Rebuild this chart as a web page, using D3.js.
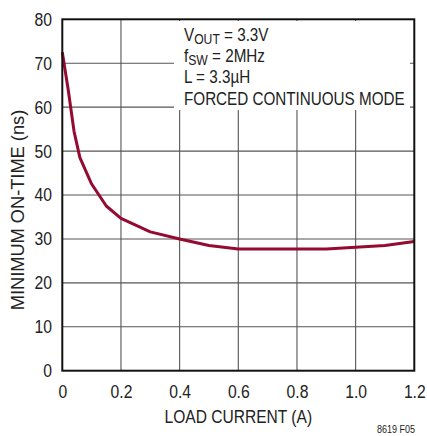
<!DOCTYPE html>
<html><head><meta charset="utf-8">
<script src="https://cdn.jsdelivr.net/npm/d3@7"></script>
<style>
html,body{margin:0;padding:0;background:#fff;}
text{font-family:"Liberation Sans",Arial,sans-serif;fill:#222;}
</style></head>
<body><svg id="c" width="427" height="436"></svg>
<script>
const loadCurrent = [0, 0.02, 0.04, 0.06, 0.10, 0.15, 0.20, 0.30, 0.40, 0.50, 0.60, 0.70, 0.80, 0.90, 1.00, 1.10, 1.20];
const minOnTime   = [72.5, 64.0, 54.5, 48.5, 42.5, 37.5, 34.7, 31.6, 30.0, 28.5, 27.7, 27.7, 27.7, 27.7, 28.1, 28.5, 29.4];
const xTicks = [0, 0.2, 0.4, 0.6, 0.8, 1.0, 1.2];
const xTickLabels = ["0", "0.2", "0.4", "0.6", "0.8", "1.0", "1.2"];
const yTicks = [0, 10, 20, 30, 40, 50, 60, 70, 80];
const legendLines = ["V|OUT| = 3.3V", "f|SW| = 2MHz", "L = 3.3µH", "FORCED CONTINUOUS MODE"];

const svg = d3.select("#c");
const L = 62.3, R = 414.3, T = 19.3, B = 370.7;
const x = d3.scaleLinear().domain([0, 1.2]).range([L, R]);
const y = d3.scaleLinear().domain([0, 80]).range([B, T]);

function ntext(px, py, size, sx, anchor, str, rot) {
  const tr = `translate(${px},${py})` + (rot ? ` rotate(${rot})` : "") + ` scale(${sx},1)`;
  return svg.append("text").attr("transform", tr).attr("font-size", size)
    .attr("text-anchor", anchor || "start").text(str);
}

// grid
const g = svg.append("g");
g.selectAll(".vg").data(xTicks.slice(1, -1)).join("line")
  .attr("x1", d => x(d)).attr("x2", d => x(d)).attr("y1", T).attr("y2", B)
  .attr("stroke", "#555").attr("stroke-width", 1.1);
g.selectAll(".hg").data(yTicks.slice(1, -1)).join("line")
  .attr("x1", L).attr("x2", R).attr("y1", d => y(d)).attr("y2", d => y(d))
  .attr("stroke", "#555").attr("stroke-width", 1.1);

// legend box (white) covering grid
svg.append("rect").attr("x", 174).attr("y", 21).attr("width", 236).attr("height", 89).attr("fill", "#fff");

// curve
svg.append("path").datum(loadCurrent.map((d, i) => [d, minOnTime[i]]))
  .attr("d", d3.line().x(d => x(d[0])).y(d => y(d[1])))
  .attr("fill", "none").attr("stroke", "#950a30").attr("stroke-width", 3).attr("stroke-linejoin", "round");

// frame
svg.append("rect").attr("x", L).attr("y", T).attr("width", R - L).attr("height", B - T)
  .attr("fill", "none").attr("stroke", "#111").attr("stroke-width", 2);

// axes tick labels
const xa = d3.axisBottom(x).tickValues(xTicks).tickFormat((d, i) => xTickLabels[i]).tickSize(0).tickPadding(14);
svg.append("g").attr("transform", `translate(0,${B})`).call(xa)
  .call(s => s.select(".domain").remove())
  .selectAll("text").attr("font-size", 18.5).attr("font-family", null).attr("fill", "#222")
  .attr("transform", "scale(0.85,1)");
const ya = d3.axisLeft(y).tickValues(yTicks).tickSize(0).tickPadding(12);
svg.append("g").attr("transform", `translate(${L},0)`).call(ya)
  .call(s => s.select(".domain").remove())
  .selectAll("text").attr("font-size", 18.5).attr("font-family", null).attr("fill", "#222")
  .attr("transform", "scale(0.85,1)");

ntext((L + R) / 2, 423, 19, 0.82, "middle", "LOAD CURRENT (A)");
ntext(24, 210, 19, 0.96, "middle", "MINIMUM ON-TIME (ns)", -90);
ntext(415, 433, 10, 0.9, "end", "8619 F05");

// legend text
legendLines.forEach((s, i) => {
  const parts = s.split("|");
  const t = ntext(184, 40.5 + i * 21.4, 17.5, 0.87, "start", null);
  t.append("tspan").text(parts[0]);
  if (parts.length > 1) {
    t.append("tspan").attr("dy", 3).attr("font-size", 14).text(parts[1]);
    t.append("tspan").attr("dy", -3).text(parts[2]);
  }
});
</script></body></html>
